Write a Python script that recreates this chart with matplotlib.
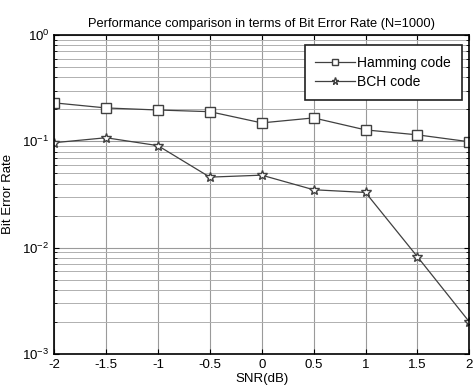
import matplotlib
matplotlib.use("Agg")
import matplotlib.pyplot as plt
import numpy as np

plt.rcParams['font.family'] = ['Liberation Sans', 'DejaVu Sans']
plt.rcParams['mathtext.fontset'] = 'custom'
plt.rcParams['mathtext.rm'] = 'Liberation Sans'
plt.rcParams['mathtext.it'] = 'Liberation Sans'

snr = [-2, -1.5, -1, -0.5, 0, 0.5, 1, 1.5, 2]
hamming_ber = [0.23, 0.206, 0.197, 0.19, 0.149, 0.166, 0.128, 0.115, 0.099]
bch_ber = [0.097, 0.108, 0.091, 0.046, 0.048, 0.035, 0.033, 0.0082, 0.002]

fig = plt.figure(figsize=(4.75, 3.85), dpi=100)
ax = fig.add_axes([0.114, 0.081, 0.874, 0.828])

line_col = '#404040'
ax.plot(snr, hamming_ber, marker='s', markersize=6.5, markerfacecolor='white',
        markeredgecolor=line_col, color=line_col, lw=0.9, label='Hamming code')
ax.plot(snr, bch_ber, marker='*', markersize=7, markerfacecolor='white',
        markeredgecolor=line_col, color=line_col, lw=0.9, label='BCH code')

ax.set_yscale('log')
ax.set_xlim(-2, 2)
ax.set_ylim(1e-3, 1)
ax.set_xticks(snr)
ax.set_xticklabels(['-2', '-1.5', '-1', '-0.5', '0', '0.5', '1', '1.5', '2'])

ax.grid(True, which='major', color='#9a9a9a', lw=0.8)
ax.grid(True, which='minor', axis='y', color='#b0b0b0', lw=0.7)
ax.tick_params(which='both', direction='in', top=True, right=True, labelsize=9.5)
ax.tick_params(which='minor', length=2)
for s in ax.spines.values():
    s.set_linewidth(1.2)

ax.set_title('Performance comparison in terms of Bit Error Rate (N=1000)', fontsize=9.3, pad=6)
ax.set_xlabel('SNR(dB)', fontsize=9.5, labelpad=2)
ax.set_ylabel('Bit Error Rate', fontsize=9.5, labelpad=6)

leg = ax.legend(loc='upper right', fontsize=10, fancybox=False, framealpha=1,
                edgecolor='#202020', borderpad=0.75, handlelength=2.9,
                handletextpad=0.15, markerscale=0.75, labelspacing=0.4,
                bbox_to_anchor=(0.998, 0.99))
leg.get_frame().set_linewidth(1.2)

fig.savefig('out.png', dpi=100)
